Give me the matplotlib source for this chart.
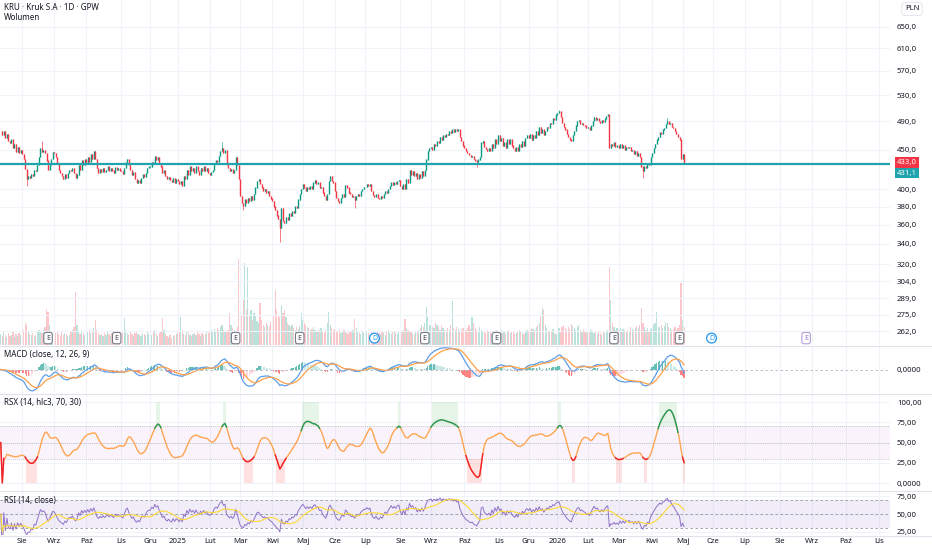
import numpy as np
import pandas as pd
import matplotlib
matplotlib.use("Agg")
import matplotlib.pyplot as plt
import matplotlib.transforms as mtransforms
from matplotlib.ticker import NullLocator

plt.rcParams['font.family'] = ['Noto Sans', 'DejaVu Sans']

# --- dane: KRU (Kruk S.A.), GPW, swiece dzienne od 2024-07-12 ---
start = "2024-07-12"
holidays = ["2024-08-15", "2024-11-01", "2024-11-11", "2024-12-24", "2024-12-25",
            "2024-12-26", "2024-12-31", "2025-01-01", "2025-01-06", "2025-04-18",
            "2025-04-21", "2025-05-01", "2025-06-19", "2025-08-15", "2025-11-11",
            "2025-12-24", "2025-12-25", "2025-12-26", "2025-12-31", "2026-01-01",
            "2026-01-06", "2026-04-03", "2026-04-06", "2026-05-01", "2026-06-04",
            "2026-11-11", "2026-12-24", "2026-12-25"]

close = [
    # lip 24
    476, 470, 476, 466, 472, 462, 460, 464, 452, 458, 447, 454, 446, 450,
    # sie 24
    444, 438, 425, 412, 416, 414, 419, 416, 424, 422, 430, 440, 452, 447, 450, 446, 436, 424, 430, 438, 447,
    # wrz 24
    446, 440, 432, 424, 420, 416, 412, 418, 414, 420, 424, 422, 426, 420, 414, 418, 430, 424, 436, 430, 437,
    # paz 24
    432, 440, 434, 444, 438, 448, 438, 426, 420, 425, 421, 426, 421, 424, 428, 422, 426, 423, 420, 427, 424, 426, 423,
    # lis 24
    422, 419, 426, 434, 438, 430, 424, 418, 421, 412, 408, 411, 408, 414, 418, 415, 420, 426, 428,
    # gru 24
    428, 434, 432, 441, 437, 440, 432, 428, 420, 423, 416, 412, 415, 411, 409, 414, 408, 412,
    # sty 25
    410, 406, 410, 404, 416, 412, 424, 418, 428, 422, 426, 420, 428, 422, 418, 426, 422, 428, 422, 426, 420,
    # lut 25
    418, 421, 424, 432, 436, 434, 442, 448, 452, 446, 449, 430, 426, 422, 425, 420, 424, 440, 430, 412,
    # mar 25
    392, 384, 381, 388, 384, 390, 386, 392, 388, 394, 402, 410, 412, 406, 402, 398, 400, 396, 398, 392, 389,
    # kwi 25
    386, 380, 376, 370, 366, 356, 378, 364, 362, 368, 365, 372, 370, 375, 373, 380, 378, 388, 394, 400,
    # maj 25
    406, 402, 398, 403, 400, 404, 401, 408, 411, 406, 408, 402, 403, 396, 392, 388, 394, 410, 416, 410, 408,
    # cze 25
    398, 390, 386, 384, 390, 394, 391, 405, 402, 396, 394, 391, 392, 388, 392, 394, 392, 398, 400, 403,
    # lip 25
    403, 406, 404, 406, 398, 393, 391, 394, 390, 389, 392, 390, 394, 398, 396, 400, 404, 408, 405, 408, 406, 410, 411,
    # sie 25
    404, 400, 406, 400, 412, 408, 424, 418, 422, 416, 420, 412, 418, 414, 422, 416, 424, 437, 448, 452,
    # wrz 25
    454, 450, 458, 456, 462, 460, 468, 464, 470, 468, 472, 470, 476, 474, 478, 475, 479, 476, 478, 468, 462, 456,
    # paz 25
    452, 448, 446, 443, 441, 442, 438, 436, 434, 437, 440, 460, 462, 454, 451, 449, 452, 448, 458, 452, 464, 458, 470,
    # lis 25
    462, 466, 456, 460, 452, 464, 458, 464, 456, 452, 448, 454, 448, 458, 454, 462, 456, 466, 470,
    # gru 25
    466, 472, 464, 470, 466, 476, 470, 482, 474, 478, 470, 476, 482, 480, 488, 486, 494, 492, 500,
    # sty 26
    502, 505, 496, 488, 482, 478, 472, 468, 464, 462, 470, 476, 484, 490, 492, 486, 488, 485, 484, 480,
    # lut 26
    482, 478, 484, 490, 496, 492, 494, 490, 488, 492, 489, 494, 498, 500, 452, 458, 456, 460, 454, 456,
    # mar 26
    452, 458, 452, 456, 450, 454, 452, 454, 448, 450, 444, 448, 442, 446, 440, 428, 422, 428, 426, 432, 430, 440,
    # kwi 26
    446, 452, 458, 464, 468, 474, 472, 478, 480, 486, 490, 486, 488, 482, 480, 476, 472, 468, 464, 438,
    # maj 26
    444, 433,
]

volume = [  # tys. akcji
    22, 18, 26, 20, 16, 24, 18, 20, 28, 16, 22, 18, 24, 20,
    26, 30, 44, 40, 28, 22, 20, 24, 18, 20, 26, 30, 28, 24, 30, 36, 70, 66, 40, 28, 22,
    20, 24, 28, 22, 18, 26, 20, 24, 22, 18, 20, 26, 30, 36, 106, 40, 26, 22, 30, 24, 20,
    22, 26, 30, 24, 28, 34, 50, 30, 24, 20, 22, 18, 24, 20, 26, 22, 18, 24, 20, 22, 26, 20, 24,
    22, 26, 54, 30, 24, 20, 26, 22, 18, 24, 28, 22, 20, 18, 24, 22, 20, 26, 22,
    24, 20, 26, 30, 22, 18, 24, 28, 54, 30, 22, 18, 16, 20, 14, 18, 20, 22,
    24, 26, 56, 30, 22, 20, 26, 24, 20, 18, 22, 24, 20, 26, 22, 18, 24, 20, 22, 26, 24,
    28, 30, 26, 32, 28, 34, 30, 36, 40, 30, 28, 26, 30, 64, 40, 34, 30, 28, 36, 172,
    126, 60, 90, 164, 70, 156, 60, 70, 50, 64, 60, 48, 44, 84, 50, 40, 36, 44, 40, 38, 46,
    50, 60, 110, 70, 60, 56, 80, 64, 70, 56, 44, 40, 36, 40, 34, 30, 36, 32, 38, 64,
    50, 44, 40, 36, 34, 30, 32, 36, 30, 28, 26, 30, 34, 28, 24, 30, 44, 66, 40, 34, 30,
    32, 28, 26, 30, 24, 28, 30, 26, 24, 22, 28, 26, 30, 52, 34, 28, 24, 22, 26, 24,
    22, 26, 24, 20, 28, 24, 22, 20, 26, 24, 22, 28, 24, 20, 26, 30, 24, 22, 26, 28, 24, 22, 26,
    24, 28, 30, 52, 34, 30, 26, 28, 24, 22, 26, 28, 30, 34, 40, 36, 44, 76, 56, 40,
    40, 36, 34, 44, 40, 36, 30, 38, 34, 30, 28, 34, 30, 40, 88, 34, 30, 36, 32, 28, 30, 34,
    36, 30, 34, 40, 32, 56, 44, 34, 30, 28, 36, 30, 26, 28, 24, 30, 26, 28, 22, 26, 24, 30, 28,
    26, 30, 24, 28, 22, 26, 30, 24, 28, 26, 22, 24, 28, 30, 26, 24, 22, 28, 30,
    28, 30, 34, 32, 30, 36, 40, 44, 60, 74, 70, 40, 34, 30, 26, 28, 32, 24, 22,
    30, 34, 28, 36, 40, 34, 30, 36, 32, 42, 38, 34, 30, 36, 40, 30, 28, 32, 26, 24,
    26, 28, 30, 26, 24, 28, 22, 26, 24, 20, 28, 24, 26, 30, 156, 90, 44, 36, 30, 34,
    30, 34, 28, 32, 30, 26, 30, 28, 36, 32, 30, 34, 38, 34, 40, 74, 44, 36, 30, 34, 28, 32,
    34, 40, 44, 66, 36, 36, 40, 34, 38, 46, 44, 36, 34, 30, 32, 36, 30, 34, 40, 124,
    50, 36,
]

# dlugie knoty
wick_high = {"2024-08-21": 462, "2025-02-13": 461, "2026-01-05": 507, "2026-04-17": 495}
wick_low = {"2024-08-06": 404, "2025-03-05": 376, "2025-04-08": 342, "2025-06-20": 378,
            "2025-10-13": 428, "2026-03-24": 414}

level = 431.1  # linia pozioma
earnings = ["2024-08-27", "2024-10-29", "2025-02-26", "2025-04-29", "2025-08-26",
            "2025-10-30", "2026-02-25", "2026-04-29"]
earnings_next = ["2026-08-26"]
dividends = ["2025-07-09", "2026-05-29"]

price_ticks = [262, 275, 289, 304, 320, 340, 360, 380, 400, 450, 490, 530, 570, 610, 650]
months_pl = ["Sty", "Lut", "Mar", "Kwi", "Maj", "Cze", "Lip", "Sie", "Wrz", "Paź", "Lis", "Gru"]

# --- obliczenia ---
cal = pd.offsets.CustomBusinessDay(holidays=holidays)
all_days = pd.date_range(start, "2026-12-31", freq=cal)
n = len(close)
idx = np.arange(n)
pos = {d.strftime("%Y-%m-%d"): k for k, d in enumerate(all_days)}

c = np.array(close, float)
o = np.r_[c[0], c[:-1]]
h = np.maximum(o, c)
l = np.minimum(o, c)
for d, v in wick_high.items():
    h[pos[d]] = max(h[pos[d]], v)
for d, v in wick_low.items():
    l[pos[d]] = min(l[pos[d]], v)
up = c >= o

cs = pd.Series(c)
macd = cs.ewm(span=12, adjust=False).mean() - cs.ewm(span=26, adjust=False).mean()
signal = macd.ewm(span=9, adjust=False).mean()
hist = (macd - signal).values

delta = cs.diff().fillna(0)
g = delta.clip(lower=0).ewm(alpha=1/14, adjust=False).mean()
s = (-delta.clip(upper=0)).ewm(alpha=1/14, adjust=False).mean()
rsi = (100 - 100/(1 + g/s)).fillna(50)
rsi_ma = rsi.rolling(14, min_periods=1).mean()


def rsx(src, length=14):
    a = 3.0/(length + 2)
    b = 1 - a
    f28 = f30 = f38 = f40 = f48 = f50 = f58 = f60 = f68 = f70 = f78 = f80 = 0.0
    prev = src[0]*100
    out = np.zeros(len(src))
    for k, v in enumerate(src):
        f8 = 100*v
        v8 = f8 - prev
        prev = f8
        f28 = b*f28 + a*v8
        f30 = a*f28 + b*f30
        vC = 1.5*f28 - 0.5*f30
        f38 = b*f38 + a*vC
        f40 = a*f38 + b*f40
        v10 = 1.5*f38 - 0.5*f40
        f48 = b*f48 + a*v10
        f50 = a*f48 + b*f50
        v14 = 1.5*f48 - 0.5*f50
        f58 = b*f58 + a*abs(v8)
        f60 = a*f58 + b*f60
        v18 = 1.5*f58 - 0.5*f60
        f68 = b*f68 + a*v18
        f70 = a*f68 + b*f70
        v1C = 1.5*f68 - 0.5*f70
        f78 = b*f78 + a*v1C
        f80 = a*f78 + b*f80
        v20 = 1.5*f78 - 0.5*f80
        val = (v14/v20 + 1)*50 if v20 > 0 else 50
        out[k] = min(max(val, 0), 100)
    return out


# open = poprzednie zamkniecie, wiec hlc3 z tych swiec wygladza szum; uzywam zamkniec
rx = rsx(c)

# --- wykres ---
W, H = 932, 550
fig = plt.figure(figsize=(W/100, H/100), dpi=100)
fs = 5.6
txt = '#131722'
gridc = '#f0f3fa'
XR = 583


def pane(top, bottom, share=None):
    return fig.add_axes([0, 1 - bottom/H, 890/W, (bottom - top)/H], sharex=share)


ax = pane(0, 345)
axm = pane(346, 393, ax)
axr = pane(394, 490, ax)
axi = pane(491, 535, ax)

# wolumen pod cena (twinx przestawia os ceny na lewo, wiec najpierw)
axv = ax.twinx()
for sp in axv.spines.values():
    sp.set_visible(False)
axv.set_yticks([])
axv.set_ylim(0, 690)
vcol = np.where(up, '#089981', '#F23645')
axv.bar(idx, volume, width=0.8, color=vcol, alpha=0.28, linewidth=0)
ax.set_zorder(axv.get_zorder() + 1)
ax.patch.set_visible(False)

mpos, mlab = [], []
for k in range(1, len(all_days)):
    if all_days[k].month != all_days[k-1].month:
        mpos.append(k)
        d = all_days[k]
        mlab.append(str(d.year) if d.month == 1 else months_pl[d.month - 1])

ax.set_yscale('log')
for a in (ax, axm, axr, axi):
    for sp in a.spines.values():
        sp.set_visible(False)
    a.set_xticks(mpos)
    a.grid(axis='both', color=gridc, linewidth=0.8)
    a.set_axisbelow(True)
    a.yaxis.tick_right()
    a.tick_params(length=0, labelsize=fs, colors=txt, pad=5, labelleft=False, labelright=True)
    a.tick_params(axis='x', labelbottom=False)
ax.set_xlim(-0.5, XR)

ax.set_ylim(251.4, 704)
ax.yaxis.set_minor_locator(NullLocator())
ax.set_yticks(price_ticks)
ax.set_yticklabels([f"{v:.1f}".replace('.', ',') for v in price_ticks])
ccol = np.where(up, '#089981', '#F23645')
ax.vlines(idx, l, h, colors=ccol, linewidth=0.45)
ax.vlines(idx, np.minimum(o, c), np.maximum(o, c) + 0.4, colors=ccol, linewidth=1.0)
ax.axhline(level, color='#1fa3ad', linewidth=1.6, zorder=5)
ax.axhline(c[-1], color='#F23645', linewidth=0.6, linestyle=(0, (1, 1.5)), alpha=0.6, zorder=4)

bt = mtransforms.blended_transform_factory(ax.transAxes, ax.transData)
ax.text(1.008, c[-1], f"{c[-1]:.1f}".replace('.', ','), transform=bt, fontsize=fs, color='white',
        va='center', ha='left', bbox=dict(boxstyle='square,pad=0.25', fc='#F23645', ec='none'))
ax.text(1.008, 420, f"{level:.1f}".replace('.', ','), transform=bt, fontsize=fs, color='white',
        va='center', ha='left', bbox=dict(boxstyle='square,pad=0.25', fc='#1fa3ad', ec='none'))

et = mtransforms.blended_transform_factory(ax.transData, ax.transAxes)
for d in earnings:
    ax.text(pos[d], 0.02, "E", transform=et, fontsize=5.2, color='#434651', ha='center', va='center',
            fontweight='bold',
            bbox=dict(boxstyle='round,pad=0.3,rounding_size=0.3', fc='white', ec='#787b86', lw=0.8))
for d in earnings_next:
    ax.text(pos[d], 0.02, "E", transform=et, fontsize=5.2, color='#9575cd', ha='center', va='center',
            fontweight='bold',
            bbox=dict(boxstyle='round,pad=0.3,rounding_size=0.3', fc='white', ec='#b39ddb', lw=0.8))
for d in dividends:
    ax.text(pos[d], 0.02, "D", transform=et, fontsize=5.0, color='#2196f3', ha='center', va='center',
            fontweight='bold',
            bbox=dict(boxstyle='circle,pad=0.2', fc='white', ec='#2196f3', lw=0.9))

# MACD
hc = []
for k in range(n):
    pv = hist[k-1] if k else 0
    if hist[k] >= 0:
        hc.append('#26A69A' if hist[k] > pv else '#B2DFDB')
    else:
        hc.append('#FF5252' if hist[k] < pv else '#FFCDD2')
axm.bar(idx, hist, width=0.8, color=hc, alpha=0.7, linewidth=0)
axm.plot(idx, macd, color='#5d9eea', linewidth=0.9)
axm.plot(idx, signal, color='#ffa048', linewidth=0.9)
axm.axhline(0, color='#b2b5be', linewidth=0.6, linestyle=(0, (3, 3)))
M = np.abs(macd).max()*1.08
axm.set_ylim(-M, M)
axm.set_yticks([0])
axm.set_yticklabels(["0,0000"])
axm.grid(axis='y', visible=False)

# RSX
axr.set_ylim(-8.6, 110)
axr.fill_between([-0.5, XR], 30, 70, color='#ce93d8', alpha=0.1, linewidth=0)
for lv in (70, 50, 30):
    axr.axhline(lv, color='#b2b5be', linewidth=0.6, linestyle=(0, (1, 1.5)))
hi = rx > 70
lo = rx < 30
axr.bar(idx[hi], 30, bottom=70, width=1.0, color='#4caf50', alpha=0.13, linewidth=0)
axr.bar(idx[lo], 30, bottom=0, width=1.0, color='#ff5252', alpha=0.17, linewidth=0)
axr.plot(idx, rx, color='#ffa552', linewidth=1.0)
axr.plot(idx, np.where(hi | np.r_[hi[1:], False] | np.r_[False, hi[:-1]], rx, np.nan),
         color='#1e9e63', linewidth=1.0)
axr.plot(idx, np.where(lo | np.r_[lo[1:], False] | np.r_[False, lo[:-1]], rx, np.nan),
         color='#f0202e', linewidth=1.0)
axr.set_yticks([0, 25, 50, 75, 100])
axr.set_yticklabels(["0,0000", "25,00", "50,00", "75,00", "100,00"])

# RSI
axi.set_ylim(20.8, 82)
axi.fill_between([-0.5, XR], 30, 70, color='#7e57c2', alpha=0.1, linewidth=0)
for lv in (70, 50, 30):
    axi.axhline(lv, color='#9598a1', linewidth=0.6, linestyle=(0, (3, 3)))
axi.plot(idx, rsi, color='#8f72c8', linewidth=0.7)
axi.plot(idx, rsi_ma, color='#fdd835', linewidth=0.8)
axi.set_yticks([25, 50, 75])
axi.set_yticklabels(["25,00", "50,00", "75,00"])
axi.tick_params(axis='x', labelbottom=True, pad=2)
axi.set_xticklabels(mlab)
for t in axi.get_xticklabels():
    if t.get_text().isdigit():
        t.set_fontweight('bold')

# separatory paneli
for y in (345.5, 393.5, 490.5, 535.5):
    fig.add_artist(plt.Line2D([0, 1], [1 - y/H, 1 - y/H], color='#e0e3eb', linewidth=0.8))

# opisy
fig.text(4/W, 1 - 8/H, "KRU · Kruk S.A · 1D · GPW", fontsize=5.8, color=txt, va='center')
fig.text(4/W, 1 - 18/H, "Wolumen", fontsize=5.8, color=txt, va='center')
fig.text(4/W, 1 - 354/H, "MACD (close, 12, 26, 9)", fontsize=5.8, color=txt, va='center')
fig.text(4/W, 1 - 403/H, "RSX (14, hlc3, 70, 30)", fontsize=5.8, color=txt, va='center')
fig.text(4/W, 1 - 500/H, "RSI (14, close)", fontsize=5.8, color=txt, va='center')
fig.text(912/W, 1 - 9/H, "PLN", fontsize=5.4, color=txt, ha='center', va='center',
         bbox=dict(boxstyle='round,pad=0.4', fc='white', ec='#e0e3eb', lw=0.6))

fig.savefig("out.png", dpi=100, facecolor='white')
